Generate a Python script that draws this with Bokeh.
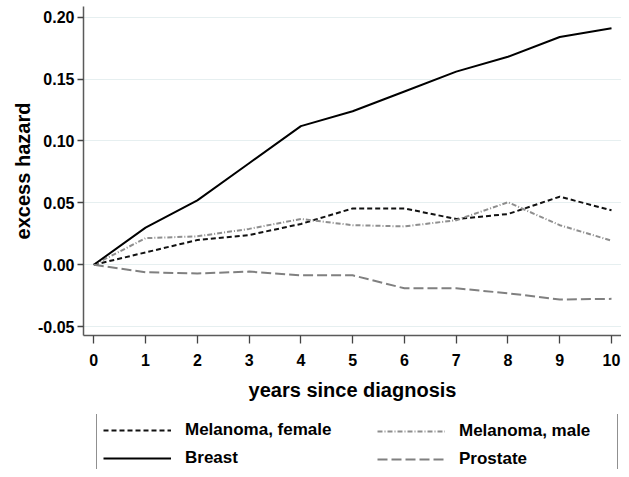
from bokeh.plotting import figure
from bokeh.layouts import column
from bokeh.models import Range1d, FixedTicker, Legend, LegendItem, ColumnDataSource
from bokeh.embed import file_html
from bokeh.resources import INLINE

# ---- data ----
years = [0, 1, 2, 3, 4, 5, 6, 7, 8, 9, 10]
melanoma_female = [0.0, 0.010, 0.020, 0.024, 0.033, 0.0455, 0.0455, 0.037, 0.041, 0.055, 0.044]
melanoma_male = [0.0, 0.0215, 0.023, 0.029, 0.037, 0.032, 0.031, 0.036, 0.0505, 0.032, 0.0195]
breast = [0.0, 0.030, 0.052, 0.082, 0.112, 0.124, 0.140, 0.156, 0.168, 0.184, 0.191]
prostate = [0.0, -0.006, -0.007, -0.0055, -0.0085, -0.0085, -0.019, -0.019, -0.023, -0.028, -0.0275]

series_labels = ["Melanoma, female", "Melanoma, male", "Breast", "Prostate"]

x_ticks = [0, 1, 2, 3, 4, 5, 6, 7, 8, 9, 10]
x_tick_labels = ["0", "1", "2", "3", "4", "5", "6", "7", "8", "9", "10"]
y_ticks = [-0.05, 0.0, 0.05, 0.10, 0.15, 0.20]
y_tick_labels = ["-0.05", "0.00", "0.05", "0.10", "0.15", "0.20"]

FONT = "Liberation Sans"

styles = {
    "mf": dict(line_color="#111111", line_width=2, line_dash="5 3"),
    "mm": dict(line_color="#8e8e8e", line_width=2, line_dash="5 2 1 2"),
    "br": dict(line_color="black", line_width=2),
    "pr": dict(line_color="#808080", line_width=2, line_dash="10 4"),
}

src = ColumnDataSource(dict(x=years, mf=melanoma_female, mm=melanoma_male,
                            br=breast, pr=prostate))

# ---- main chart ----
p = figure(width=621, height=414, output_backend="svg", toolbar_location=None,
           x_range=Range1d(-0.199, 10.193), y_range=Range1d(-0.0571, 0.2086),
           min_border_left=83, min_border_right=0, min_border_top=6,
           min_border_bottom=79)
p.outline_line_color = None
p.background_fill_color = "white"
p.border_fill_color = "white"

p.xgrid.visible = False
p.ygrid.grid_line_color = "#e6eff0"
p.ygrid.grid_line_width = 1.2

p.xaxis.ticker = FixedTicker(ticks=x_ticks)
p.xaxis.major_label_overrides = {t: l for t, l in zip(x_ticks, x_tick_labels)}
p.yaxis.ticker = FixedTicker(ticks=y_ticks)
p.yaxis.major_label_overrides = {t: l for t, l in zip(y_ticks, y_tick_labels)}

for ax in (p.xaxis[0], p.yaxis[0]):
    ax.axis_line_color = "#5a5a5a"
    ax.axis_line_width = 1.5
    ax.major_tick_line_color = "#444444"
    ax.major_tick_line_width = 1.3
    ax.major_tick_in = 0
    ax.minor_tick_line_color = None
    ax.major_label_text_font = FONT
    ax.major_label_text_font_style = "bold"
    ax.major_label_text_font_size = "16px"
    ax.major_label_text_color = "black"
    ax.axis_label_text_font = FONT
    ax.axis_label_text_font_style = "bold"
    ax.axis_label_text_font_size = "20px"
    ax.axis_label_text_color = "black"

p.xaxis.major_tick_out = 8
p.xaxis.major_label_standoff = 10
p.xaxis.axis_label = "years since diagnosis"
p.xaxis.axis_label_standoff = 10
p.yaxis.major_tick_out = 6
p.yaxis.major_label_standoff = 3
p.yaxis.axis_label = "excess hazard"
p.yaxis.axis_label_standoff = 1

for key in ["mf", "mm", "br", "pr"]:
    p.line("x", key, source=src, **styles[key])

# ---- legend strip (proxy renderers carry the same line styles) ----
p2 = figure(width=621, height=55, output_backend="svg", toolbar_location=None,
            x_range=Range1d(0, 1), y_range=Range1d(0, 1),
            x_axis_location=None, y_axis_location=None,
            min_border_left=83, min_border_right=0, min_border_top=0,
            min_border_bottom=0)
p2.outline_line_color = None
p2.grid.visible = False
p2.background_fill_color = "white"
p2.border_fill_color = "white"

proxy = {key: p2.line(x=[0], y=[0], **styles[key]) for key in ["mf", "mm", "br", "pr"]}

common = dict(label_text_font=FONT, label_text_font_style="bold",
              label_text_font_size="17px", label_text_color="black",
              glyph_width=68, glyph_height=20, label_height=20,
              label_standoff=14, padding=6, spacing=8, margin=0)

leg1 = Legend(items=[LegendItem(label=series_labels[0], renderers=[proxy["mf"]]),
                     LegendItem(label=series_labels[2], renderers=[proxy["br"]])],
              location=(13, -6), label_width=426,
              border_line_color="#222222", border_line_width=1.5,
              background_fill_color="white", background_fill_alpha=1.0, **common)
leg2 = Legend(items=[LegendItem(label=series_labels[1], renderers=[proxy["mm"]]),
                     LegendItem(label=series_labels[3], renderers=[proxy["pr"]])],
              location=(288, -6), border_line_color="white", border_line_alpha=0.0,
              background_fill_alpha=0.0, **common)
p2.add_layout(leg1, "center")
p2.add_layout(leg2, "center")

layout = column(p, p2, spacing=0)
open("out.html", "w").write(file_html(layout, INLINE))
